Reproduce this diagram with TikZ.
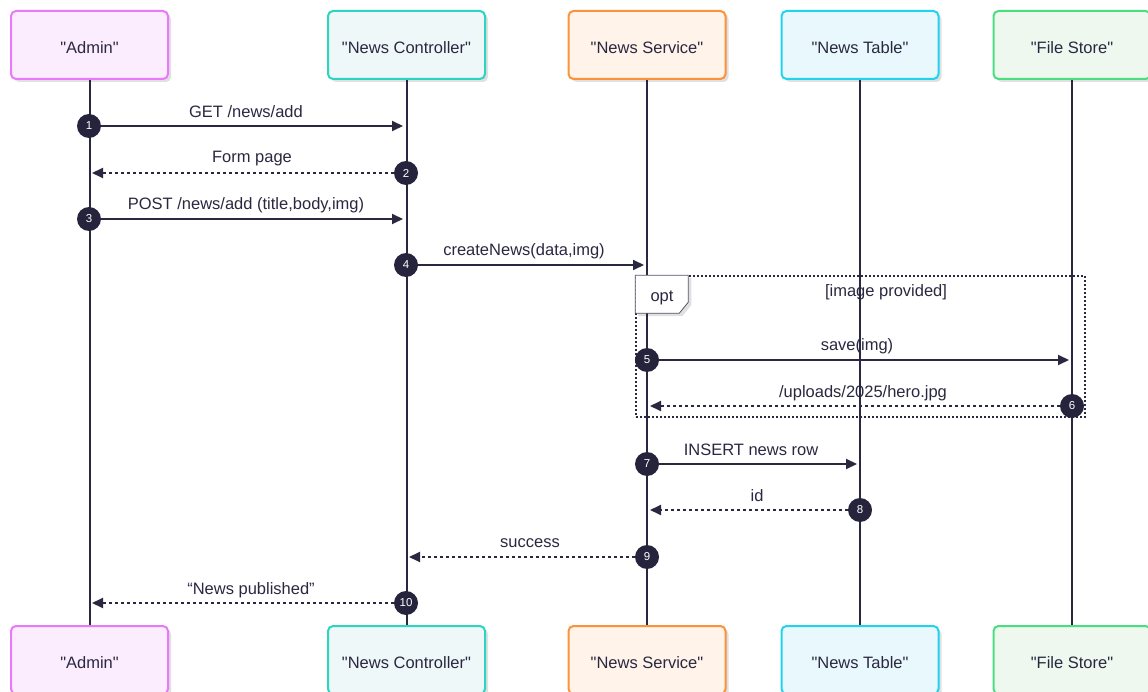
\documentclass[tikz,border=0pt]{standalone}
\usepackage{fontspec}
\setmainfont{Liberation Sans}
\usetikzlibrary{arrows.meta,shadows}
\definecolor{ink}{HTML}{2A2840}
\definecolor{dot}{HTML}{26233C}
\definecolor{adminB}{HTML}{E879F9}\definecolor{adminF}{HTML}{FBEDFE}
\definecolor{ctrlB}{HTML}{2DD4BF}\definecolor{ctrlF}{HTML}{EFF8F9}
\definecolor{servB}{HTML}{FB923C}\definecolor{servF}{HTML}{FFF3EA}
\definecolor{tabB}{HTML}{22D3EE}\definecolor{tabF}{HTML}{E8F8FD}
\definecolor{fileB}{HTML}{4ADE80}\definecolor{fileF}{HTML}{EEF8EF}
\newcommand{\q}{\textquotedbl}
\begin{document}
\begin{tikzpicture}[x=1pt,y=-1pt,
  actor/.style={draw, line width=2pt, rounded corners=5pt, minimum width=157pt, minimum height=68pt,
    text height=17pt, text depth=0pt,
    font=\fontsize{16.5}{19}\selectfont, text=ink,
    drop shadow={shadow xshift=3pt, shadow yshift=-3pt, opacity=0.12, fill=black}},
  life/.style={draw=ink, line width=2pt},
  msg/.style={draw=ink, line width=2pt, -{Triangle[length=11pt,width=10pt]}},
  ret/.style={msg, dash pattern=on 3pt off 3pt},
  num/.style={circle, fill=dot, text=white, minimum size=24pt, inner sep=0pt, font=\fontsize{11.5}{13}\selectfont},
  lbl/.style={font=\fontsize{16.5}{19}\selectfont, text=ink, inner sep=0pt}]
\useasboundingbox (0,0) rectangle (1148,692);
\clip (0,0) rectangle (1148,692);
% actors
\foreach \n/\x/\t/\c in {1/89.5/Admin/admin, 2/406.5/News Controller/ctrl, 3/647/News Service/serv, 4/860/News Table/tab, 5/1072/File Store/file}{
  \node[actor, draw=\c B, fill=\c F] (a\n) at (\x,45) {\q\t\q};
  \node[actor, draw=\c B, fill=\c F] (b\n) at (\x,660) {\q\t\q};
}
\foreach \n in {1,...,5}{\draw[life] (a\n.south) -- (b\n.north);}
% opt frame
\node[draw=ink, line width=1.5pt, dash pattern=on 2pt off 2pt, minimum width=449pt, minimum height=141pt, inner sep=0pt] (opt) at (860.5,346.5) {};
\draw[draw=ink!80, line width=0.8pt, fill=white, drop shadow={shadow xshift=3pt, shadow yshift=-3pt, opacity=0.12, fill=black}]
  (opt.north west) -- ++(53,0) -- ++(0,27) -- ++(-9,11) -- ++(-44,0) -- cycle;
\node[lbl] (optl) at (662,298) {opt};
\node[lbl] (cond) at (886,292) {[image provided]};
% messages
\node[num] (n1) at (89,126) {1};
\coordinate (t1) at (403,126);
\draw[msg] (n1) -- (t1);
\node[lbl] (l1) at (246,112) {GET /news/add};

\node[num] (n2) at (406,173) {2};
\coordinate (t2) at (92,173);
\draw[ret] (n2) -- (t2);
\node[lbl] (l2) at (252,159) {Form page};

\node[num] (n3) at (89,219) {3};
\coordinate (t3) at (403,219);
\draw[msg] (n3) -- (t3);
\node[lbl] (l3) at (246,205) {POST /news/add (title,body,img)};

\node[num] (n4) at (406,265) {4};
\coordinate (t4) at (644,265);
\draw[msg] (n4) -- (t4);
\node[lbl] (l4) at (524,251) {createNews(data,img)};

\node[num] (n5) at (647,360) {5};
\coordinate (t5) at (1069,360);
\draw[msg] (n5) -- (t5);
\node[lbl] (l5) at (857,346) {save(img)};

\node[num] (n6) at (1072,406) {6};
\coordinate (t6) at (650,406);
\draw[ret] (n6) -- (t6);
\node[lbl] (l6) at (863,393) {/uploads/2025/hero.jpg};

\node[num] (n7) at (647,464) {7};
\coordinate (t7) at (857,464);
\draw[msg] (n7) -- (t7);
\node[lbl] (l7) at (751,450) {INSERT news row};

\node[num] (n8) at (860,510) {8};
\coordinate (t8) at (650,510);
\draw[ret] (n8) -- (t8);
\node[lbl] (l8) at (757,496) {id};

\node[num] (n9) at (647,557) {9};
\coordinate (t9) at (409,557);
\draw[ret] (n9) -- (t9);
\node[lbl] (l9) at (530,543) {success};

\node[num] (n10) at (406,603) {10};
\coordinate (t10) at (92,603);
\draw[ret] (n10) -- (t10);
\node[lbl] (l10) at (251,590) {“News published”};
\end{tikzpicture}
\end{document}
